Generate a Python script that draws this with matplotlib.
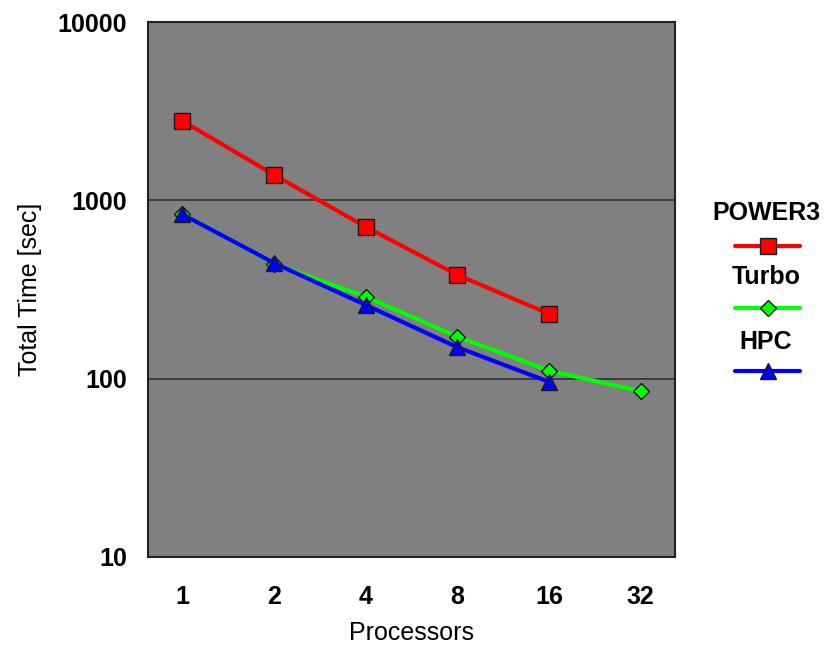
import matplotlib
matplotlib.use('Agg')
from matplotlib import pyplot as plt
from matplotlib.lines import Line2D

plt.rcParams['font.family'] = ['Liberation Sans', 'DejaVu Sans']

processors = ['1', '2', '4', '8', '16', '32']
power3 = [2790, 1390, 710, 382, 231]
turbo = [840, 440, 288, 172, 111, 85]
hpc = [835, 445, 259, 150, 96]

series = [
    ('POWER3', power3, '#ff0000', 's', 11.5),
    ('Turbo', turbo, '#00ff00', 'D', 7.8),
    ('HPC', hpc, '#0000ff', '^', 11.5),
]

fig = plt.figure(figsize=(8.3, 6.47), dpi=100)
ax = fig.add_axes([148 / 830, 1 - 557 / 647, 527 / 830, 535 / 647])
ax.set_facecolor('#808080')

for name, vals, col, mk, ms in series:
    ax.plot(range(len(vals)), vals, color=col, lw=3, marker=mk, ms=ms,
            mfc=col, mec='#1a1a1a', mew=1, solid_capstyle='round')

ax.set_yscale('log')
ax.set_ylim(10, 10000)
ax.set_xlim(-0.375, 5.375)
ax.set_yticks([10, 100, 1000, 10000])
ax.set_yticklabels(['10', '100', '1000', '10000'])
ax.yaxis.set_minor_locator(matplotlib.ticker.NullLocator())
ax.set_xticks(range(len(processors)))
ax.set_xticklabels(processors)
ax.tick_params(length=0, labelsize=18)
ax.tick_params(axis='y', pad=15)
ax.tick_params(axis='x', pad=20)
for t in ax.get_xticklabels() + ax.get_yticklabels():
    t.set_fontweight('bold')
ax.grid(axis='y', color='#333333', lw=1.2)
ax.set_axisbelow(True)
for s in ax.spines.values():
    s.set_color('#222222')
    s.set_linewidth(1.5)

ax.set_xlabel('Processors', fontsize=18, labelpad=9)
ax.set_ylabel('Total Time [sec]', fontsize=18, labelpad=11)

# legend: label above a line sample
label_y = [213, 277, 342]
line_y = [246, 308, 371]
for (name, vals, col, mk, ms), ly, my in zip(series, label_y, line_y):
    fig.text(766 / 830, 1 - ly / 647, name, ha='center', va='center',
             fontsize=18, fontweight='bold')
    yy = 1 - my / 647
    fig.add_artist(Line2D([735 / 830, 800 / 830], [yy, yy], color=col, lw=3,
                          solid_capstyle='round', transform=fig.transFigure))
    fig.add_artist(Line2D([768 / 830], [yy], marker=mk, ms=ms, mfc=col,
                          mec='#1a1a1a', mew=1, transform=fig.transFigure))

fig.savefig('out.png', dpi=100)
